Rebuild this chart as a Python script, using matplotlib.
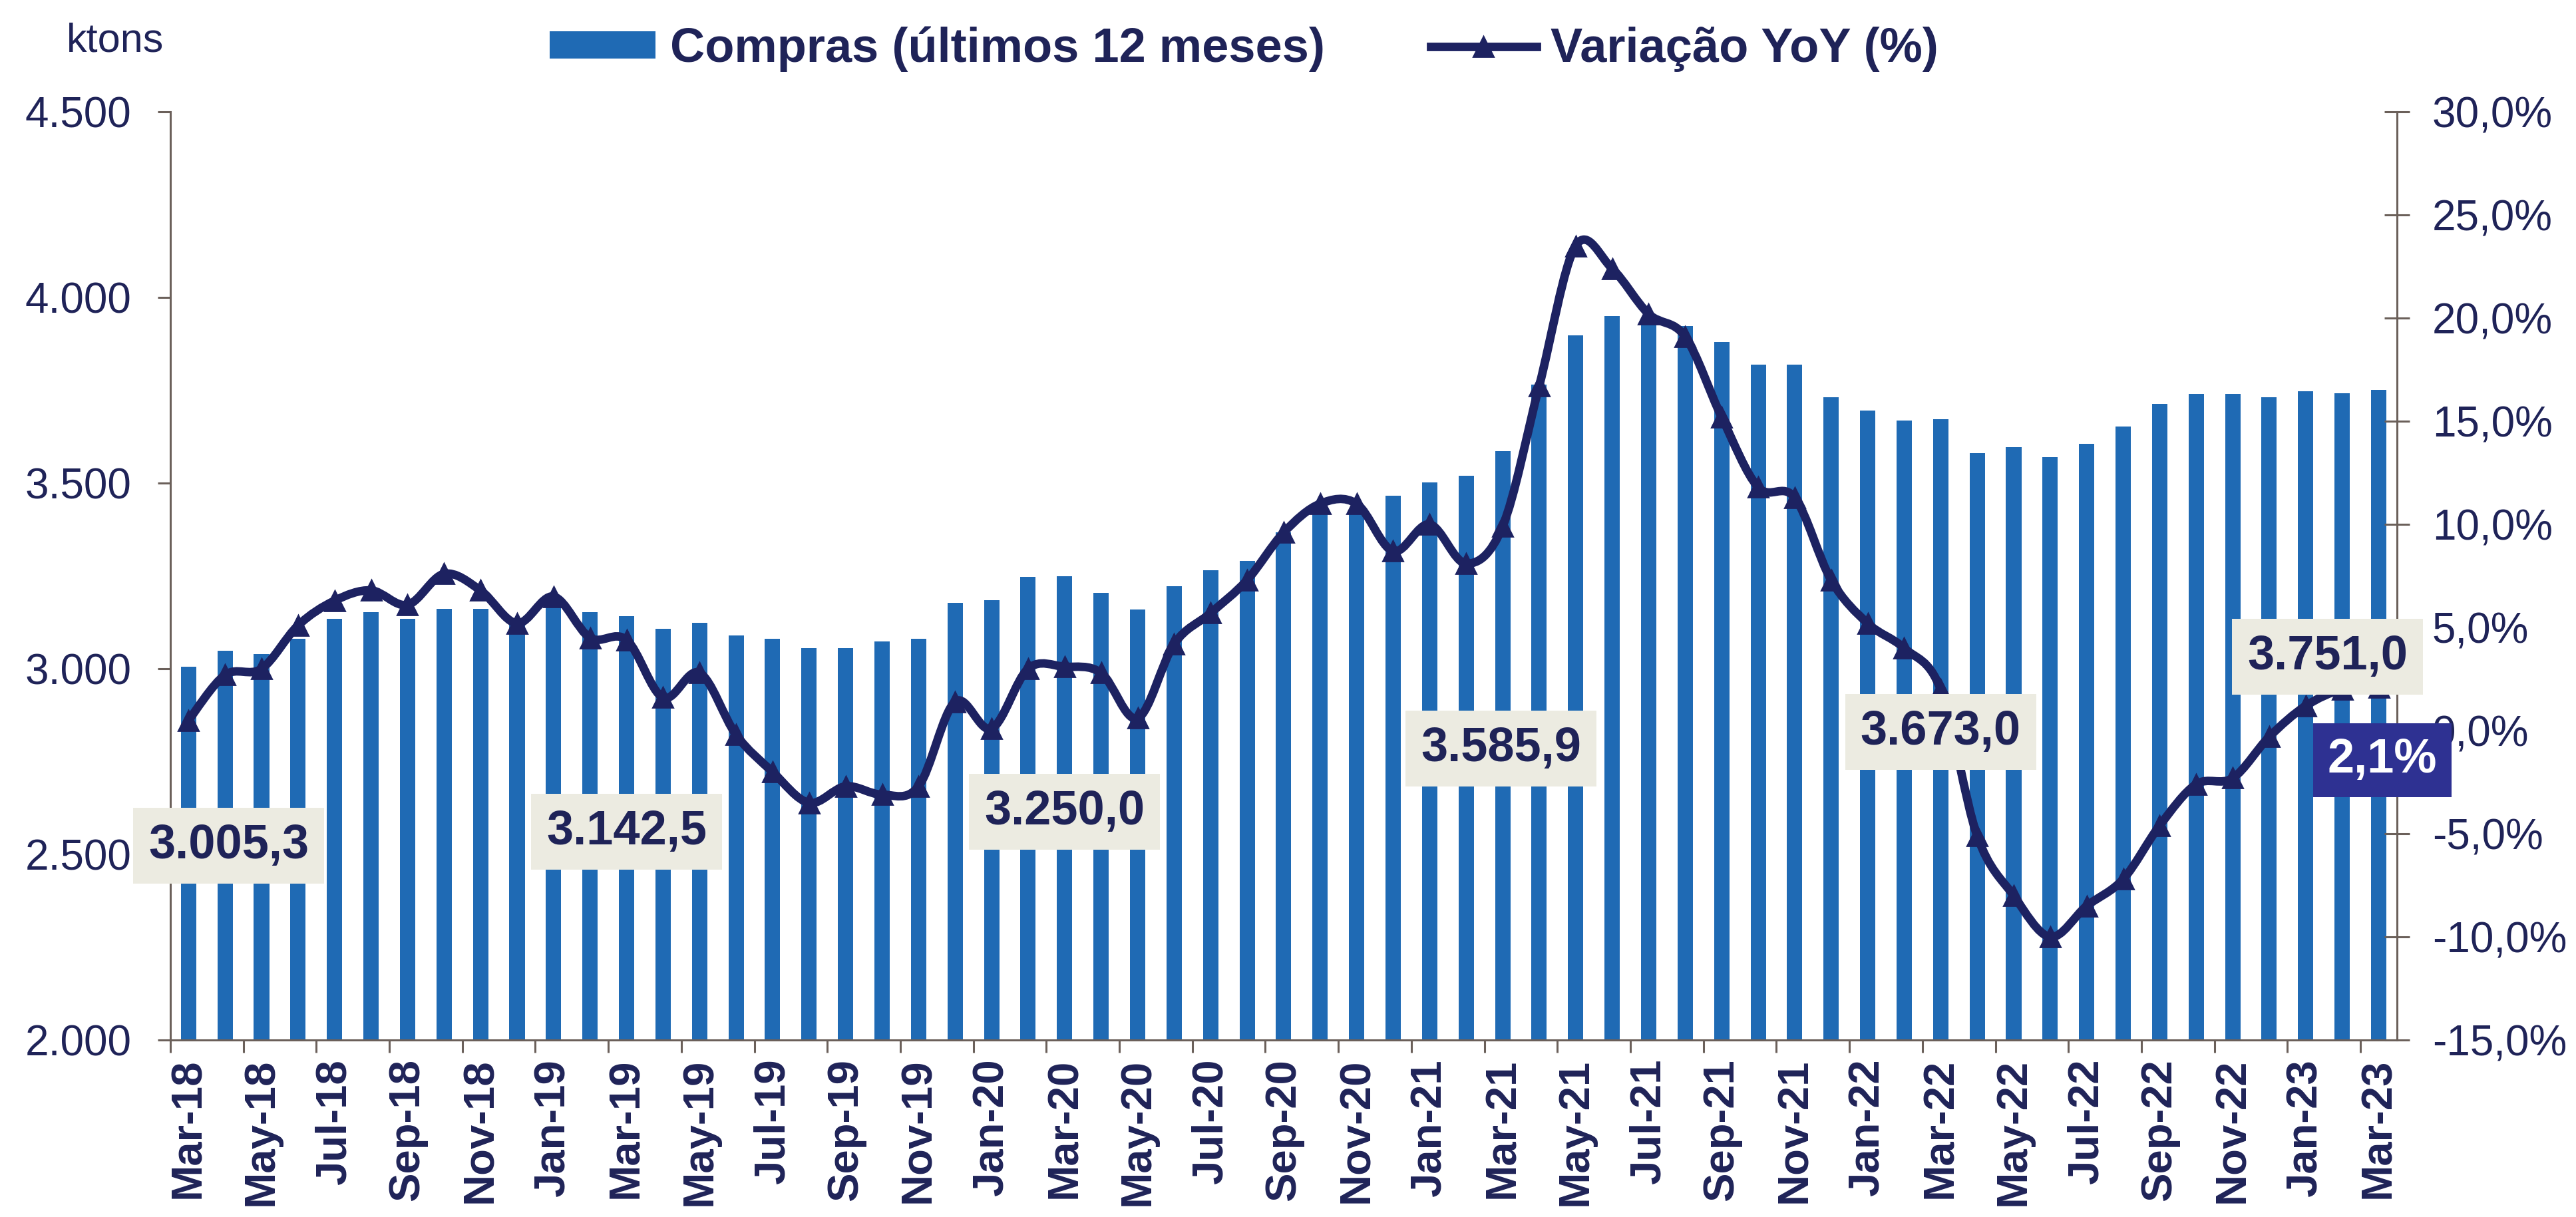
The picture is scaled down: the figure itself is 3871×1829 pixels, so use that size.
import numpy as np
import matplotlib
matplotlib.use("Agg")
import matplotlib.pyplot as plt
from matplotlib.path import Path
from matplotlib.patches import PathPatch
from matplotlib.lines import Line2D
from matplotlib.ticker import FuncFormatter

plt.rcParams['font.family'] = ['Liberation Sans', 'DejaVu Sans']

months = ['Mar-18', 'Apr-18', 'May-18', 'Jun-18', 'Jul-18', 'Aug-18', 'Sep-18', 'Oct-18',
          'Nov-18', 'Dec-18', 'Jan-19', 'Feb-19', 'Mar-19', 'Apr-19', 'May-19', 'Jun-19',
          'Jul-19', 'Aug-19', 'Sep-19', 'Oct-19', 'Nov-19', 'Dec-19', 'Jan-20', 'Feb-20',
          'Mar-20', 'Apr-20', 'May-20', 'Jun-20', 'Jul-20', 'Aug-20', 'Sep-20', 'Oct-20',
          'Nov-20', 'Dec-20', 'Jan-21', 'Feb-21', 'Mar-21', 'Apr-21', 'May-21', 'Jun-21',
          'Jul-21', 'Aug-21', 'Sep-21', 'Oct-21', 'Nov-21', 'Dec-21', 'Jan-22', 'Feb-22',
          'Mar-22', 'Apr-22', 'May-22', 'Jun-22', 'Jul-22', 'Aug-22', 'Sep-22', 'Oct-22',
          'Nov-22', 'Dec-22', 'Jan-23', 'Feb-23', 'Mar-23']

# compras ultimos 12 meses (ktons)
compras = [3005.3, 3048, 3040, 3080, 3134, 3152, 3134, 3162,
           3162, 3135, 3170, 3152, 3142.5, 3107, 3124, 3090,
           3080, 3055, 3055, 3073, 3080, 3178, 3185, 3248,
           3250.0, 3204, 3160, 3222, 3266, 3290, 3368, 3422,
           3428, 3466, 3502, 3520, 3585.9, 3765, 3898, 3950,
           3938, 3923, 3880, 3819, 3819, 3731, 3695, 3668,
           3673.0, 3580, 3597, 3570, 3606, 3652, 3713, 3740,
           3740, 3731, 3747, 3742, 3751.0]

# variacao yoy (%)
yoy = [0.5, 2.7, 3.0, 5.1, 6.3, 6.8, 6.1, 7.6,
       6.8, 5.2, 6.5, 4.5, 4.4, 1.6, 2.8, -0.2,
       -2.0, -3.5, -2.7, -3.1, -2.7, 1.4, 0.1, 3.0,
       3.1, 2.8, 0.6, 4.2, 5.7, 7.3, 9.6, 11.0,
       11.0, 8.7, 10.0, 8.1, 9.9, 16.7, 23.5, 22.4,
       20.2, 19.1, 15.2, 11.8, 11.3, 7.3, 5.2, 4.0,
       2.0, -5.1, -8.0, -10.0, -8.5, -7.2, -4.6, -2.6,
       -2.3, -0.3, 1.2, 2.0, 2.1]

# which months get a value box
labelled = [0, 12, 24, 36, 48, 60]

BAR = '#1F6AB4'
LINE = '#1D2261'
TXT = '#1F2358'
BOXBG = '#ECEBE1'
SPINE = '#6B605A'


def fmt_br(v, dec=1):
    s = f"{v:,.{dec}f}"
    return s.replace(',', '#').replace('.', ',').replace('#', '.')


def smooth_path(x, y):
    # bezier through every point, like excel's smoothed line
    n = len(x)
    verts = [(x[0], y[0])]
    codes = [Path.MOVETO]
    for i in range(n - 1):
        xa, ya = (x[i - 1], y[i - 1]) if i > 0 else (x[i], y[i])
        xb, yb = (x[i + 2], y[i + 2]) if i + 2 < n else (x[i + 1], y[i + 1])
        c1 = (x[i] + (x[i + 1] - xa) / 6, y[i] + (y[i + 1] - ya) / 6)
        c2 = (x[i + 1] - (xb - x[i]) / 6, y[i + 1] - (yb - y[i]) / 6)
        verts += [c1, c2, (x[i + 1], y[i + 1])]
        codes += [Path.CURVE4] * 3
    return Path(verts, codes)


fig = plt.figure(figsize=(19.355, 9.145), dpi=200)
ax = fig.add_axes([0.0661, 0.1454, 0.9305 - 0.0661, 0.9081 - 0.1454])
ax2 = ax.twinx()

idx = np.arange(len(months))
bars = ax.bar(idx, compras, width=0.42, color=BAR, zorder=2)
ax.set_xlim(-0.5, 60.5)
ax.set_ylim(2000, 4500)
ax.set_yticks(np.arange(2000, 4501, 500))
ax.yaxis.set_major_formatter(FuncFormatter(lambda v, p: fmt_br(v, 0)))

ax2.set_ylim(-15, 30)
ax2.set_yticks(np.arange(-15, 31, 5))
ax2.yaxis.set_major_formatter(FuncFormatter(lambda v, p: fmt_br(v, 1) + '%'))

path = smooth_path(idx.astype(float), yoy)
ax2.add_patch(PathPatch(path, fill=False, edgecolor=LINE, lw=4.6,
                        capstyle='round', joinstyle='round', zorder=3))
ax2.plot(idx, yoy, linestyle='none', marker='^', ms=11, color=LINE, zorder=4)

# x ticks: marks between month pairs, labels under every other bar
ax.set_xticks(np.arange(-0.5, 60, 2))
ax.set_xticklabels([])
ax.set_xticks(idx[::2], minor=True)
ax.set_xticklabels(months[::2], minor=True, rotation=90, fontsize=23.5,
                   fontweight='bold', color=TXT)
ax.tick_params(axis='x', which='major', length=7, width=1.1, color=SPINE, direction='out')
ax.tick_params(axis='x', which='minor', length=0, pad=10)
ax.tick_params(axis='y', length=7, width=1.1, color=SPINE, direction='out',
               labelsize=23, labelcolor=TXT, pad=14)
ax2.tick_params(axis='y', length=14, width=1.1, color=SPINE, direction='inout',
                labelsize=23, labelcolor=TXT, pad=12)

for a in (ax, ax2):
    a.spines['top'].set_visible(False)
    for s in ('left', 'right', 'bottom'):
        a.spines[s].set_color(SPINE)
        a.spines[s].set_linewidth(1.1)
ax.spines['right'].set_visible(False)
ax2.spines['left'].set_visible(False)
ax2.spines['bottom'].set_visible(False)

# value boxes (placed in bar-axis coordinates)
box_pos = [(1.1, 2523), (12.0, 2561), (24.0, 2615), (35.95, 2785), (48.0, 2830), (58.6, 3032)]
for i, (bx, by) in zip(labelled, box_pos):
    ax2.text(bx, by, fmt_br(compras[i]), transform=ax.transData, ha='center', va='center',
             fontsize=26, fontweight='bold', color=TXT, zorder=6, clip_on=False,
             bbox=dict(boxstyle='square,pad=0.32', fc=BOXBG, ec='none'))
ax2.text(60.1, 2754, fmt_br(yoy[-1]) + '%', transform=ax.transData, ha='center', va='center',
         fontsize=26, fontweight='bold', color='white', zorder=6, clip_on=False,
         bbox=dict(boxstyle='square,pad=0.3', fc='#2E3192', ec='none'))

fig.text(0.0447, 0.966, 'ktons', fontsize=22, color=TXT, ha='center', va='center')

handles = [bars, Line2D([], [], color=LINE, lw=4.6, marker='^', ms=11)]
leg = fig.legend(handles, ['Compras (últimos 12 meses)', 'Variação YoY (%)'],
                 loc='center', bbox_to_anchor=(0.483, 0.9595), ncol=2, frameon=False,
                 prop={'size': 26, 'weight': 'bold'}, handlelength=2.2, handleheight=0.5,
                 handletextpad=0.3, columnspacing=2.2, numpoints=1)
for t in leg.get_texts():
    t.set_color(TXT)

fig.savefig('out.png', dpi=200)
